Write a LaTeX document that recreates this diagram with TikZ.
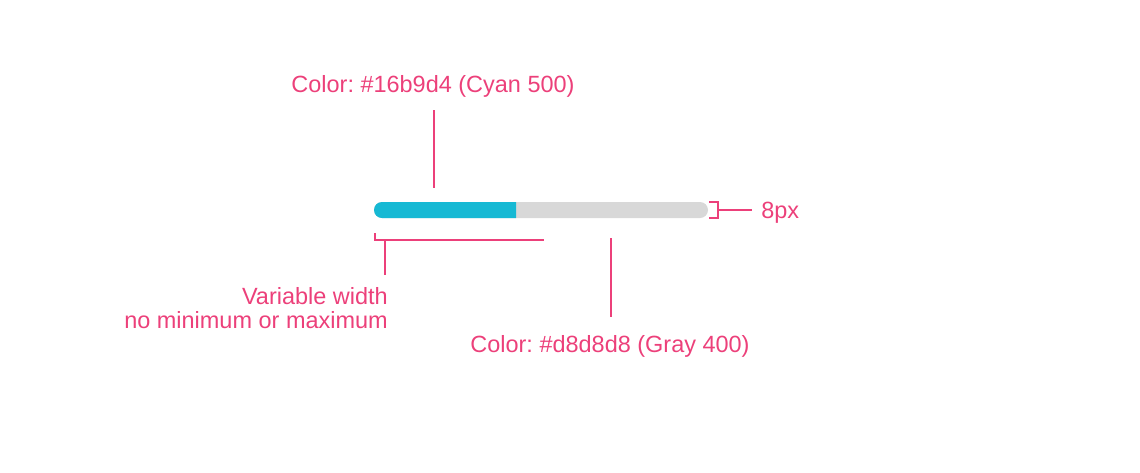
\documentclass[tikz,border=0pt]{standalone}
\usepackage{fontspec}
\setmainfont{Liberation Sans}
\definecolor{pinkline}{HTML}{EC407A}
\definecolor{cyanbar}{HTML}{16B9D4}
\definecolor{graybar}{HTML}{D8D8D8}
\tikzset{
  x=0.75pt, y=-0.75pt,
  lead/.style={draw=pinkline, line width=1.5pt},
  lbl/.style={text=pinkline, inner sep=0pt, font=\fontsize{17.6pt}{20pt}\selectfont\frenchspacing},
}
\begin{document}
\begin{tikzpicture}
\useasboundingbox (0,0) rectangle (1140,472);
% bar
\fill[graybar, rounded corners=6pt] (374,202) rectangle (708,218);
\fill[cyanbar] (516,202) -- (382,202) arc[start angle=90, end angle=270, radius=6pt] -- (516,218) -- cycle;
% coordinates
\coordinate (ctop1) at (434,110);
\coordinate (ctop2) at (434,188);
\coordinate (cg1) at (611,238);
\coordinate (cg2) at (611,317);
\coordinate (bl1) at (375,233);
\coordinate (bl2) at (375,240);
\coordinate (bl3) at (544,240);
\coordinate (bv1) at (385,240);
\coordinate (bv2) at (385,275);
\coordinate (rb1) at (709,202);
\coordinate (rb2) at (718,202);
\coordinate (rb3) at (718,218);
\coordinate (rb4) at (709,218);
\coordinate (rh1) at (718,210);
\coordinate (rh2) at (752,210);
% leaders
\draw[lead] (ctop1) -- (ctop2);
\draw[lead] (cg1) -- (cg2);
\draw[lead] (bl1) -- (bl2) -- (bl3);
\draw[lead] (bv1) -- (bv2);
\draw[lead] (rb1) -- (rb2) -- (rb3) -- (rb4);
\draw[lead] (rh1) -- (rh2);
% labels
\node[lbl, anchor=base] (tcyan) at (433,92) {Color: \#16b9d4 (Cyan 500)};
\node[lbl, anchor=base west] (t8) at (761,218) {8px};
\node[lbl, anchor=base east] (tvar1) at (388,304) {Variable width};
\node[lbl, anchor=base east] (tvar2) at (388,328) {no minimum or maximum};
\node[lbl, anchor=base] (tgray) at (610,352) {Color: \#d8d8d8 (Gray 400)};
\end{tikzpicture}
\end{document}
